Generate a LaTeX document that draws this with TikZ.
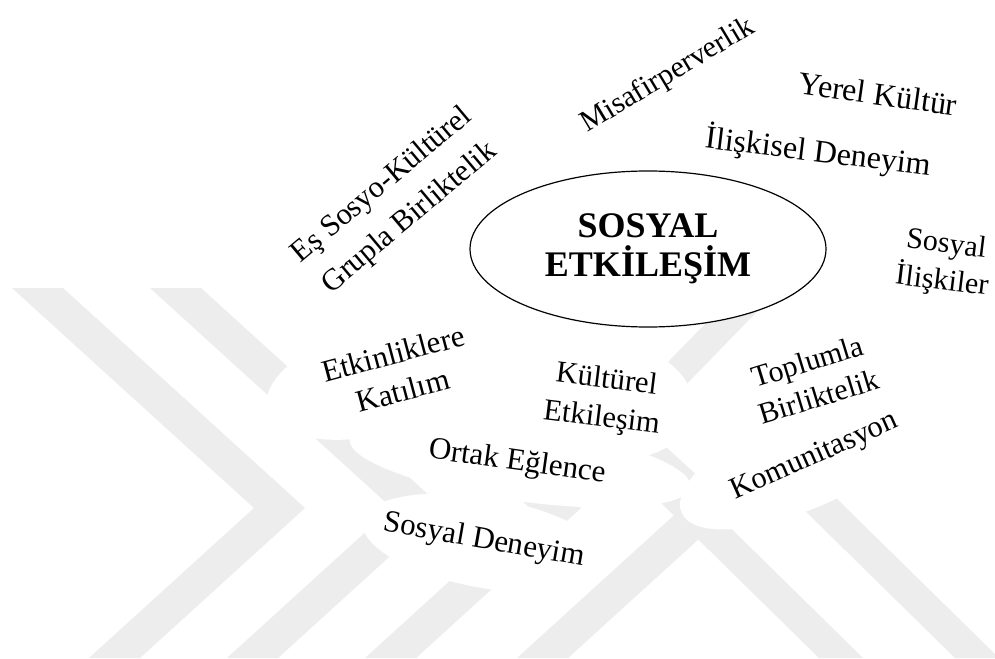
\documentclass[tikz,border=0pt]{standalone}
\usepackage{fontspec}
\setmainfont{Liberation Serif}
\usetikzlibrary{shapes.geometric}
\definecolor{wmgray}{gray}{0.93}
\tikzset{
  band/.style={fill=wmgray},
  blob/.style={fill=white},
  word/.style={inner sep=0pt, align=center, font=\fontsize{31}{37}\selectfont},
  core/.style={ellipse, draw, line width=1.2pt, fill=white, inner sep=0pt,
    minimum width=356pt, minimum height=156pt, align=center,
    font=\bfseries\fontsize{36}{39}\selectfont},
}
\begin{document}
\begin{tikzpicture}[x=1pt,y=-1pt]
\useasboundingbox (0,0) rectangle (995,658);
\fill[white] (0,0) rectangle (995,658);

% faint chevron stripes in the background
\foreach \a in {12,150,288,440}{
  \fill[band] (\a,288) -- ++(51,0) -- ++(242,220) -- ++(-165,150)
    -- ++(-51,0) -- ++(165,-150) -- cycle;
}
\foreach \a in {655,791}{
  \fill[band] (\a,497) -- ++(44,0) -- ++(164,161) -- ++(-44,0) -- cycle;
}
\fill[band] (636,395) -- (676,395) -- (778,290) -- (738,290) -- cycle;

% white cloud behind the words
\fill[blob, rotate around={40:(396,202)}] (396,202) ellipse [x radius=160pt, y radius=88pt];
\fill[blob] (520,340) ellipse [x radius=140pt, y radius=72pt];
\fill[blob] (360,328) ellipse [x radius=62pt, y radius=36pt];
\fill[blob] (445,418) ellipse [x radius=75pt, y radius=32pt];
\fill[blob, rotate around={15:(385,378)}] (385,378) ellipse [x radius=122pt, y radius=55pt];
\fill[blob, rotate around={-7:(604,400)}] (604,400) ellipse [x radius=90pt, y radius=60pt];
\fill[blob, rotate around={-8:(520,463)}] (520,463) ellipse [x radius=172pt, y radius=38pt];
\fill[blob, rotate around={-10:(486,543)}] (486,543) ellipse [x radius=125pt, y radius=45pt];
\fill[blob, rotate around={17:(815,380)}] (815,380) ellipse [x radius=100pt, y radius=62pt];
\fill[blob, rotate around={24:(805,458)}] (805,458) ellipse [x radius=135pt, y radius=50pt];

% central concept
\node[core] (center) at (648,249) {SOSYAL\\ETKİLEŞİM};

% surrounding words
\node[word, rotate=31, font=\fontsize{30}{36}\selectfont] (misafir) at (668,76) {Misafirperverlik};
\node[word, rotate=-8, font=\fontsize{32}{38}\selectfont] (yerel) at (878,94) {Yerel Kültür};
\node[word, rotate=-7, font=\fontsize{32}{38}\selectfont] (iliskisel) at (818,152) {İlişkisel Deneyim};
\node[word, rotate=40, font=\fontsize{30.5}{43}\selectfont] (esgrup) at (396,202) {Eş Sosyo-Kültürel\\Grupla Birliktelik};
\node[word, rotate=-7, font=\fontsize{30}{37}\selectfont] (iliskiler) at (944,264) {Sosyal\\İlişkiler};
\node[word, rotate=15, font=\fontsize{31}{38}\selectfont] (katilim) at (398,372) {Etkinliklere\\Katılım};
\node[word, rotate=-7, font=\fontsize{30.5}{39}\selectfont] (kulturel) at (604,400) {Kültürel\\Etkileşim};
\node[word, rotate=17, font=\fontsize{30}{37}\selectfont] (toplum) at (813,379) {Toplumla\\Birliktelik};
\node[word, rotate=-8] (eglence) at (517,463) {Ortak Eğlence};
\node[word, rotate=24, font=\fontsize{30.5}{37}\selectfont] (komun) at (815,457) {Komunitasyon};
\node[word, rotate=-10] (deneyim) at (484,541) {Sosyal Deneyim};
\end{tikzpicture}
\end{document}
